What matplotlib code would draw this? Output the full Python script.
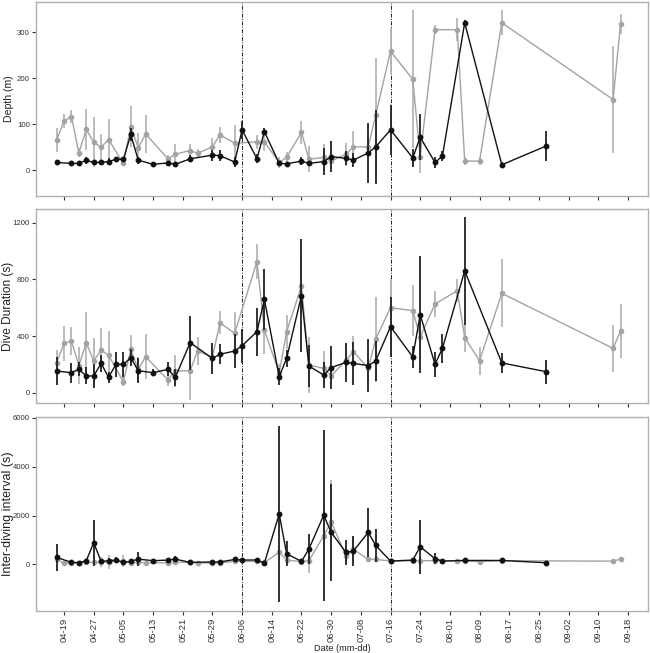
import numpy as np
import pandas as pd
import matplotlib
matplotlib.use('Agg')
import matplotlib.pyplot as plt
import matplotlib.dates as mdates

plt.rcParams['font.family'] = ['Liberation Sans', 'DejaVu Sans']

# --- data ---
# black series
black_dates = ['04-17', '04-21', '04-23', '04-25', '04-27', '04-29', '05-01', '05-03', '05-05', '05-07',
               '05-09', '05-13', '05-17', '05-19', '05-23', '05-29', '05-31', '06-04', '06-06', '06-10',
               '06-12', '06-16', '06-18', '06-22', '06-24', '06-28', '06-30', '07-04', '07-06', '07-10',
               '07-12', '07-16', '07-22', '07-24', '07-28', '07-30', '08-05', '08-15', '08-27']
black_depth = [17, 15, 15, 22, 17, 17, 19, 24, 24, 78, 22, 13, 16, 13, 25, 33, 32, 18, 88, 25,
               84, 15, 14, 20, 15, 19, 30, 26, 22, 38, 51, 88, 27, 72, 17, 31, 321, 12, 53]
black_depth_sd = [6, 5, 4, 8, 6, 6, 7, 5, 5, 15, 8, 4, 5, 4, 8, 12, 12, 10, 20, 10,
                  8, 5, 5, 8, 5, 30, 33, 15, 15, 65, 80, 55, 20, 50, 12, 10, 5, 5, 32]
black_dur = [153, 141, 165, 118, 118, 207, 109, 200, 200, 247, 155, 141, 165, 109, 353, 242, 271, 294, 332, 431,
             659, 113, 243, 685, 188, 125, 177, 214, 207, 191, 224, 466, 252, 551, 200, 313, 861, 210, 148]
black_dur_sd = [100, 70, 50, 60, 85, 60, 40, 90, 90, 60, 90, 25, 50, 60, 190, 110, 70, 120, 120, 170,
                215, 60, 60, 400, 150, 90, 150, 140, 150, 185, 140, 212, 80, 415, 90, 100, 380, 70, 85]
black_idi = [286, 80, 70, 150, 885, 120, 150, 175, 80, 120, 215, 150, 175, 215, 80, 100, 100, 200, 175, 180,
             50, 2060, 435, 120, 625, 2015, 1310, 490, 545, 1310, 775, 135, 175, 720, 230, 135, 160, 160, 65]
black_idi_sd = [560, 60, 40, 80, 950, 80, 100, 120, 60, 80, 300, 80, 100, 120, 60, 60, 60, 100, 80, 100,
                40, 3600, 510, 80, 620, 3500, 2000, 500, 600, 1000, 680, 60, 100, 1100, 230, 60, 60, 60, 50]

# grey series
grey_dates = ['04-17', '04-19', '04-21', '04-23', '04-25', '04-27', '04-29', '05-01', '05-05', '05-07',
              '05-09', '05-11', '05-17', '05-19', '05-23', '05-25', '05-29', '05-31', '06-04', '06-10',
              '06-12', '06-16', '06-18', '06-22', '06-24', '06-28', '06-30', '07-04', '07-06', '07-10',
              '07-12', '07-16', '07-22', '07-24', '07-28', '08-03', '08-05', '08-09', '08-15', '09-14', '09-16']
grey_depth = [66, 107, 117, 38, 89, 61, 50, 67, 15, 95, 49, 79, 25, 35, 43, 37, 51, 77, 59, 62,
              62, 17, 28, 83, 24, 28, 20, 35, 51, 51, 120, 259, 198, 30, 306, 306, 20, 20, 321, 154, 318]
grey_depth_sd = [26, 15, 15, 10, 45, 54, 30, 45, 5, 45, 32, 42, 8, 22, 14, 10, 20, 17, 40, 15,
                 20, 12, 12, 25, 28, 30, 15, 25, 35, 20, 125, 50, 150, 35, 10, 25, 8, 8, 27, 117, 22]
grey_dur = [212, 348, 365, 190, 353, 224, 301, 264, 78, 306, 165, 254, 90, 153, 155, 294, 250, 494, 419, 925,
            442, 139, 430, 753, 195, 172, 118, 230, 290, 172, 377, 600, 579, 395, 626, 720, 388, 226, 701, 313, 435]
grey_dur_sd = [90, 125, 100, 130, 220, 160, 155, 170, 30, 100, 90, 160, 40, 110, 210, 100, 80, 80, 150, 125,
               170, 60, 120, 200, 195, 120, 60, 100, 110, 100, 300, 200, 180, 120, 90, 80, 100, 100, 240, 165, 190]
grey_idi = [200, 50, 60, 70, 80, 80, 90, 100, 150, 60, 80, 70, 60, 80, 80, 60, 50, 60, 120, 120,
            80, 490, 180, 110, 150, 1170, 1745, 340, 615, 205, 205, 135, 150, 150, 150, 135, 140, 110, 150, 130, 220]
grey_idi_sd = [150, 40, 40, 60, 100, 60, 200, 300, 250, 80, 100, 60, 40, 60, 60, 50, 40, 60, 80, 80,
               50, 300, 150, 80, 500, 1200, 1700, 300, 500, 100, 100, 60, 80, 150, 60, 60, 60, 40, 60, 50, 60]

period_lines = ['06-06', '07-16']
tick_start, tick_end = '04-19', '09-18'

year = '2019-'
def to_dt(lst):
    return pd.to_datetime([year + d for d in lst])

bx = to_dt(black_dates)
gx = to_dt(grey_dates)

panels = [
    (black_depth, black_depth_sd, grey_depth, grey_depth_sd, 'Depth (m)', [0, 100, 200, 300], (-56, 366), 7.6),
    (black_dur, black_dur_sd, grey_dur, grey_dur_sd, 'Dive Duration (s)', [0, 400, 800, 1200], (-73, 1296), 8.6),
    (black_idi, black_idi_sd, grey_idi, grey_idi_sd, 'Inter-diving interval (s)', [0, 2000, 4000, 6000], (-1910, 6030), 9.0),
]

fig = plt.figure(figsize=(6.5, 6.53), dpi=100)
bottoms = [0.6998, 0.3828, 0.0643]

base = pd.Timestamp(year + tick_start)
xlim = (base - pd.Timedelta(days=7.55), base + pd.Timedelta(days=157.4))
ticks = pd.date_range(year + tick_start, year + tick_end, freq='8D')

grey_c = '#a3a3a3'
black_c = '#111111'

for i, (bv, bsd, gv, gsd, lab, yt, yl, fs) in enumerate(panels):
    ax = fig.add_axes([0.0554, bottoms[i], 0.9415, 0.297])
    # grey series first, black on top
    ax.errorbar(gx, gv, yerr=gsd, color=grey_c, ecolor='#b5b5b5', elinewidth=1.3,
                lw=1.0, marker='o', ms=3.0, capsize=0, zorder=2)
    ax.errorbar(bx, bv, yerr=bsd, color=black_c, ecolor='#222222', elinewidth=1.3,
                lw=1.0, marker='o', ms=3.2, capsize=0, zorder=3)
    for d in period_lines:
        ax.axvline(pd.Timestamp(year + d), color='#222222', lw=0.7,
                   dashes=(4, 1.5, 1, 1.5), zorder=1)
    ax.set_xlim(xlim)
    ax.set_ylim(yl)
    ax.set_yticks(yt)
    ax.set_xticks(ticks)
    ax.xaxis.set_major_formatter(mdates.DateFormatter('%m-%d'))
    ax.tick_params(axis='both', direction='out', length=3, width=0.8, color='#333333',
                   labelcolor='#333333')
    ax.tick_params(axis='y', labelsize=5.6, pad=1.5)
    ax.tick_params(axis='x', labelsize=6.8, pad=2)
    for s in ax.spines.values():
        s.set_color('#b0b0b0')
        s.set_linewidth(1.0)
    ax.set_ylabel(lab, fontsize=fs, color='#222222')
    ax.yaxis.set_label_coords(-0.0355, 0.5)
    if i < 2:
        ax.tick_params(axis='x', labelbottom=False)
    else:
        for t in ax.get_xticklabels():
            t.set_rotation(90)
        ax.set_xlabel('Date (mm-dd)', fontsize=6.6, color='#222222', labelpad=1)

fig.savefig('out.png', dpi=100)
